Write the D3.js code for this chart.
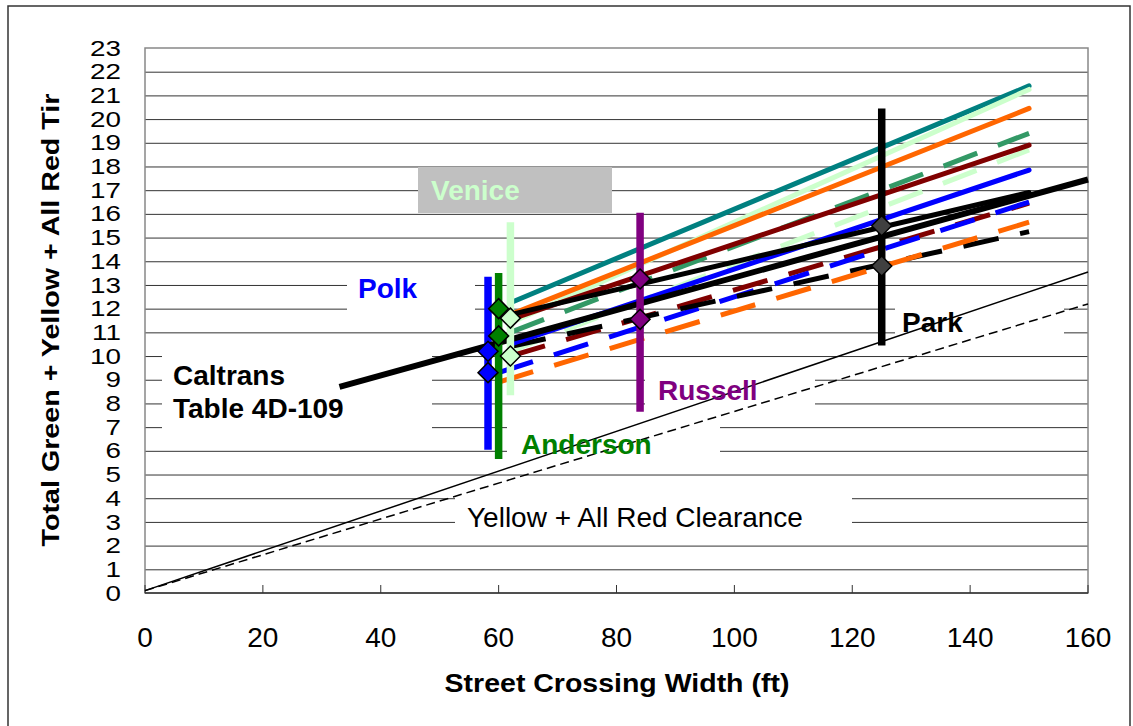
<!DOCTYPE html>
<html><head><meta charset="utf-8">
<script src="https://cdn.jsdelivr.net/npm/d3@7"></script>
<style>body{margin:0;background:#fff} text{font-family:Arial,"Liberation Sans",sans-serif}</style>
</head><body><svg id="c" width="1133" height="726"></svg>
<script>
// ---------------- DATA ----------------
const xTickLabels = [0, 20, 40, 60, 80, 100, 120, 140, 160];
const yTickLabels = [0,1,2,3,4,5,6,7,8,9,10,11,12,13,14,15,16,17,18,19,20,21,22,23];

// trend lines: crossing width (ft) at start/end and total time at start/end
const trendNames  = ["Teal","LightGreen","Orange","DarkRed","Blue","Black",
                     "SeaGreenDash","LightGreenDash","DarkRedDash","BlueDash","BlackDash","OrangeDash"];
const trendStartW = [62, 62, 62, 62, 62, 62, 62, 62, 62, 60, 62, 60];
const trendEndW   = [150,150,150,150,150,150,150,150,150,150,150,150];
const trendStartT = [12.25, 11.4, 11.75, 11.55, 10.5, 11.75, 11.0, 10.2, 10.0, 9.3, 10.4, 8.9];
const trendEndT   = [21.4, 21.25, 20.45, 18.9, 17.85, 16.9, 19.4, 18.7, 16.45, 16.5, 15.25, 15.65];

// Caltrans Table 4D-109
const caltransW = [33, 160];
const caltransT = [8.7, 17.45];

// Yellow + All Red clearance
const clearW = [0, 160];
const clearSolidT = [0.1, 13.55];
const clearDashT  = [0.1, 12.2];

// site ranges (vertical bars) and observed points (diamonds)
const sites      = ["Polk", "Anderson", "Venice", "Russell", "Park"];
const siteW      = [58.2, 60, 62, 84, 125];
const siteMin    = [6.05, 5.65, 8.35, 7.65, 10.45];
const siteMax    = [13.35, 13.5, 15.65, 16.05, 20.45];
const sitePointA = [10.2, 12.0, 11.6, 13.25, 15.5];
const sitePointB = [9.3, 10.85, 10.0, 11.55, 13.8];

// ---------------- STYLES ----------------
const trendStyle = {
  Teal:{c:"#008080",d:null}, LightGreen:{c:"#CCFFCC",d:null}, Orange:{c:"#FF6600",d:null},
  DarkRed:{c:"#800000",d:null}, Blue:{c:"#0000FF",d:null}, Black:{c:"#000000",d:null},
  SeaGreenDash:{c:"#339966",d:"36,22"}, LightGreenDash:{c:"#CCFFCC",d:"36,22"},
  DarkRedDash:{c:"#800000",d:"36,22"}, BlueDash:{c:"#0000FF",d:"36,22"},
  BlackDash:{c:"#000000",d:"36,22"}, OrangeDash:{c:"#FF6600",d:"36,22"}
};
const siteColor = {Polk:"#0000FF", Anderson:"#008000", Venice:"#CCFFCC", Russell:"#800080", Park:"#000000"};
const pointColor = {Polk:"#0000FF", Anderson:"#008000", Venice:"#CCFFCC", Russell:"#800080", Park:"#404040"};

// ---------------- CHART ----------------
const svg = d3.select("#c");
const x = d3.scaleLinear().domain([0,160]).range([145,1088]);
const y = d3.scaleLinear().domain([0,23]).range([593,48]);

// outer frame
svg.append("rect").attr("x",8).attr("y",6).attr("width",1122).attr("height",740)
  .attr("fill","#fff").attr("stroke","#333").attr("stroke-width",1.5);

// gridlines
svg.append("g").selectAll("line").data(yTickLabels.filter(v=>v>0 && v<23)).join("line")
  .attr("x1",x(0)).attr("x2",x(160)).attr("y1",d=>y(d)+0.5).attr("y2",d=>y(d)+0.5)
  .attr("stroke","#333").attr("stroke-width",1);

// plot border
svg.append("rect").attr("x",x(0)).attr("y",y(23)).attr("width",x(160)-x(0)).attr("height",y(0)-y(23))
  .attr("fill","none").attr("stroke","#888").attr("stroke-width",1.5);

// annotation boxes (white boxes hiding gridlines)
const annotations = [
  {t:["Venice"], x:431, y:[200], c:"#CCFFCC", w:"bold", box:[418,167,612,213], fill:"#C0C0C0"},
  {t:["Polk"], x:358, y:[298], c:"#0000FF", w:"bold", box:[347,268,475,320], fill:"#fff"},
  {t:["Caltrans","Table 4D-109"], x:173, y:[385,418], c:"#000", w:"bold", box:[162,341,432,442], fill:"#fff"},
  {t:["Anderson"], x:521, y:454, c:"#008000", w:"bold", box:[507,418,720,466], fill:"#fff"},
  {t:["Russell"], x:658, y:[400], c:"#800080", w:"bold", box:[645,367,815,414], fill:"#fff"},
  {t:["Park"], x:902, y:[332], c:"#000", w:"bold", box:[895,297,1064,345], fill:"#fff"},
  {t:["Yellow + All Red Clearance"], x:467, y:[527], c:"#000", w:"normal", box:[455,489,852,537], fill:"#fff"}
];
annotations.forEach(a=>{
  svg.append("rect").attr("x",a.box[0]).attr("y",a.box[1])
    .attr("width",a.box[2]-a.box[0]).attr("height",a.box[3]-a.box[1]).attr("fill",a.fill);
});

// x-axis line and ticks
svg.append("line").attr("x1",x(0)).attr("x2",x(160)).attr("y1",y(0)).attr("y2",y(0))
  .attr("stroke","#333").attr("stroke-width",1.5);
svg.append("g").selectAll("line").data(xTickLabels).join("line")
  .attr("x1",d=>x(d)).attr("x2",d=>x(d)).attr("y1",y(0)).attr("y2",y(0)-8)
  .attr("stroke","#333").attr("stroke-width",1);

const line = d3.line().x(d=>x(d[0])).y(d=>y(d[1]));

// clearance lines
svg.append("path").attr("d",line(clearW.map((w,i)=>[w,clearSolidT[i]])))
  .attr("fill","none").attr("stroke","#000").attr("stroke-width",1.5);
svg.append("path").attr("d",line(clearW.map((w,i)=>[w,clearDashT[i]])))
  .attr("fill","none").attr("stroke","#000").attr("stroke-width",1.5).attr("stroke-dasharray","9,5");

// trend lines (dashed first, then solid)
const order = [6,7,8,9,10,11,0,1,2,3,4,5];
order.forEach(i=>{
  const st = trendStyle[trendNames[i]];
  const p = svg.append("path")
    .attr("d", line([[trendStartW[i],trendStartT[i]],[trendEndW[i],trendEndT[i]]]))
    .attr("fill","none").attr("stroke",st.c).attr("stroke-width",5);
  if (st.d) p.attr("stroke-dasharray",st.d).attr("stroke-linecap","butt");
  else p.attr("stroke-linecap","round");
});

// site bars
function bar(i){
  svg.append("line").attr("x1",x(siteW[i])).attr("x2",x(siteW[i]))
    .attr("y1",y(siteMin[i])).attr("y2",y(siteMax[i]))
    .attr("stroke",siteColor[sites[i]]).attr("stroke-width",7.5);
}
bar(0);
// Caltrans line
svg.append("path").attr("d",line(caltransW.map((w,i)=>[w,caltransT[i]])))
  .attr("fill","none").attr("stroke","#000").attr("stroke-width",6);
[1,2,3,4].forEach(bar);

// diamonds
const r = 10;
const dia = `M0,${-r}L${r},0L0,${r}L${-r},0Z`;
sites.forEach((s,i)=>{
  [sitePointA[i], sitePointB[i]].forEach(v=>{
    svg.append("path").attr("d",dia)
      .attr("transform",`translate(${x(siteW[i])},${y(v)})`)
      .attr("fill",pointColor[s]).attr("stroke","#000").attr("stroke-width",1.5);
  });
});

// annotation texts
annotations.forEach(a=>{
  const ys = Array.isArray(a.y)?a.y:[a.y];
  a.t.forEach((t,k)=>{
    svg.append("text").attr("x",a.x).attr("y",ys[k]).text(t)
      .attr("font-size",28).attr("font-weight",a.w).attr("fill",a.c);
  });
});

// tick labels
svg.append("g").selectAll("text").data(xTickLabels).join("text")
  .attr("x",d=>x(d)).attr("y",647).attr("text-anchor","middle")
  .attr("font-size",28).text(d=>d);
svg.append("g").selectAll("text").data(yTickLabels).join("text")
  .attr("transform",d=>`translate(121,${y(d)+7.6}) scale(1.07,0.815)`)
  .attr("text-anchor","end")
  .attr("font-size",26).text(d=>d);

// axis titles
svg.append("text").attr("transform","translate(617,692) scale(1.14,1)").attr("text-anchor","middle")
  .attr("font-size",25).attr("font-weight","bold").text("Street Crossing Width (ft)");
svg.append("text").attr("transform","translate(59,320) rotate(-90) scale(1.17,1)").attr("text-anchor","middle")
  .attr("font-size",24.5).attr("font-weight","bold").text("Total Green + Yellow + All Red Tir");
</script></body></html>
